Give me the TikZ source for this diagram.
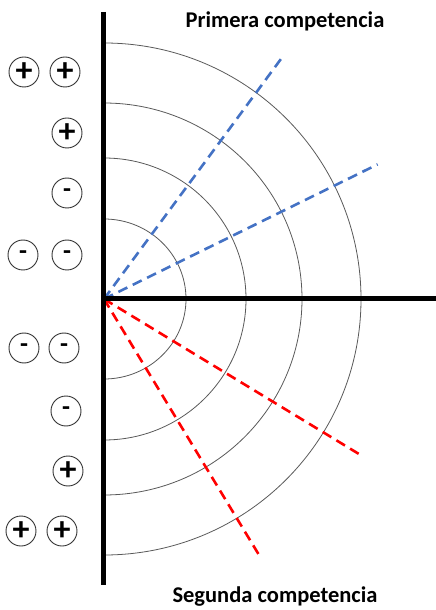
\documentclass[tikz,border=0pt]{standalone}
\usepackage{fontspec}
\setmainfont{Carlito}
\usetikzlibrary{positioning}

\definecolor{officeblue}{HTML}{4472C4}

\begin{document}
\begin{tikzpicture}[
      x=1pt,y=1pt,
      axis/.style={line width=5pt},
      ring/.style={draw=black!65,line width=0.8pt},
      ray/.style={dashed,line width=2.6pt,dash pattern=on 10pt off 6pt},
      sign/.style={circle,draw=black!80,line width=0.9pt,minimum size=30pt,inner sep=0pt,font=\bfseries},
      title/.style={font=\fontsize{22.5}{26}\selectfont\bfseries,anchor=base}
    ]
    \useasboundingbox (-104,-311) rectangle (332,299);
    \coordinate (o) at (0,0);
    \coordinate (top) at (0,287);
    \coordinate (bot) at (0,-286);
    \coordinate (right) at (332,0);
    % rings
    \foreach \rx/\ry in {82/80,142/141,198/196,257/256}
      \draw[ring] (0,\ry) arc[start angle=90,end angle=-90,x radius=\rx,y radius=\ry];
    % rays
    \coordinate (b1) at (53.6:303);
    \coordinate (b2) at (26.2:305);
    \coordinate (r1) at (-31.3:300);
    \coordinate (r2) at (-58.8:303);
    \draw[ray,officeblue] (o) -- (b1);
    \draw[ray,officeblue] (o) -- (b2);
    \draw[ray,red] (o) -- (r1);
    \draw[ray,red] (o) -- (r2);
    % axes
    \draw[axis] (top) -- (bot);
    \draw[axis] (o) -- (right);
    % signs
    \node[sign] (p1) at (-80,227) {\fontsize{34}{34}\selectfont +};
    \node[sign] (p2) at (-39,227) {\fontsize{34}{34}\selectfont +};
    \node[sign] (p3) at (-37,166) {\fontsize{34}{34}\selectfont +};
    \node[sign] (m1) at (-37,106) {\fontsize{26}{26}\selectfont -};
    \node[sign] (m2) at (-81,44) {\fontsize{26}{26}\selectfont -};
    \node[sign] (m3) at (-37,44) {\fontsize{26}{26}\selectfont -};
    \node[sign] (m4) at (-80,-49) {\fontsize{26}{26}\selectfont -};
    \node[sign] (m5) at (-40,-49) {\fontsize{26}{26}\selectfont -};
    \node[sign] (m6) at (-38,-112) {\fontsize{26}{26}\selectfont -};
    \node[sign] (p4) at (-36,-172) {\fontsize{34}{34}\selectfont +};
    \node[sign] (p5) at (-83,-232) {\fontsize{34}{34}\selectfont +};
    \node[sign] (p6) at (-42,-232) {\fontsize{34}{34}\selectfont +};
    % titles
    \node[title] (first) at (181,271) {Primera competencia};
    \node[title] (second) at (171,-303) {Segunda competencia};
  \end{tikzpicture}
\end{document}
